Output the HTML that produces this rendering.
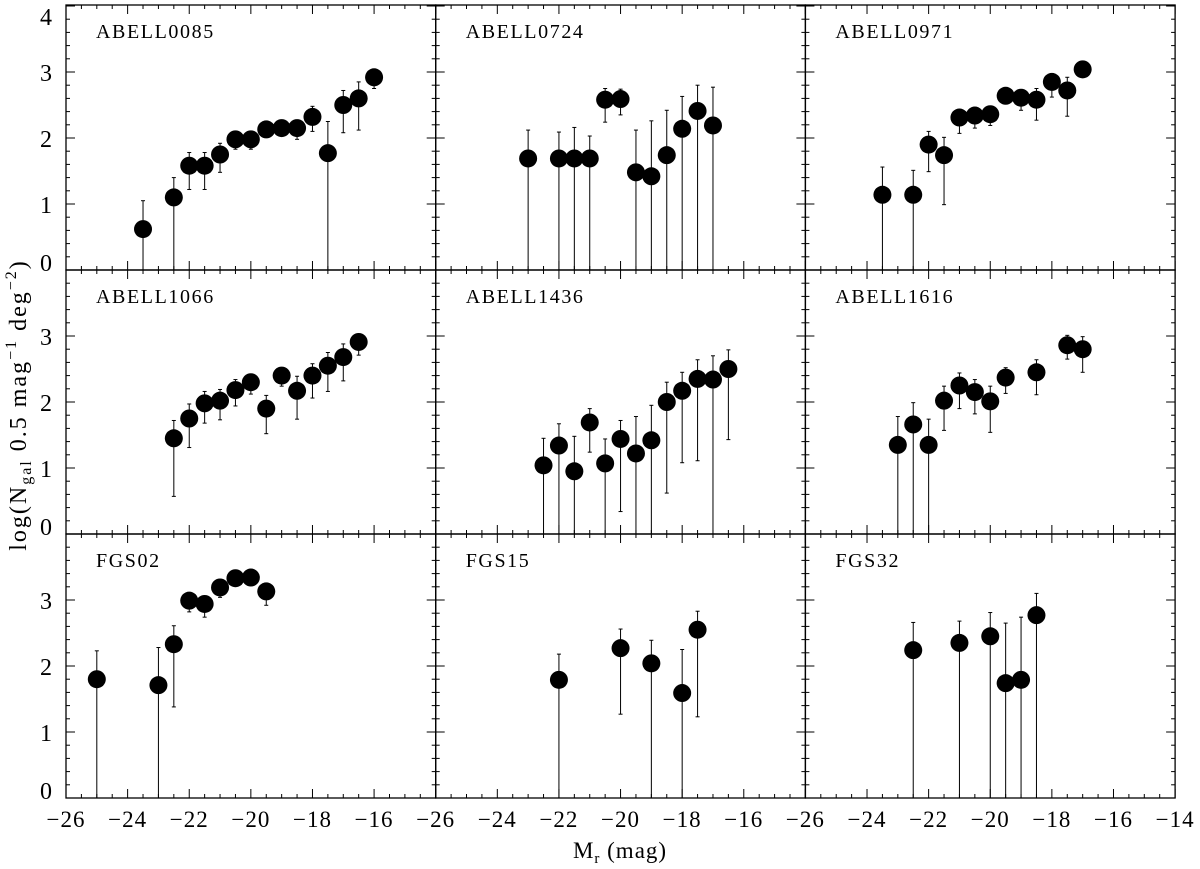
<!DOCTYPE html>
<html><head><meta charset="utf-8"><style>
html,body{margin:0;padding:0;background:#fff;}
svg{display:block;font-family:"Liberation Serif",serif;}
</style></head><body>
<svg id="chart" width="1200" height="869" viewBox="0 0 1200 869" xmlns="http://www.w3.org/2000/svg"></svg>
<script>
const panelNames = ["ABELL0085","ABELL0724","ABELL0971","ABELL1066","ABELL1436","ABELL1616","FGS02","FGS15","FGS32"];
const mag0085 = [-23.5,-22.5,-22,-21.5,-21,-20.5,-20,-19.5,-19,-18.5,-18,-17.5,-17,-16.5,-16];
const val0085 = [0.62,1.1,1.58,1.58,1.75,1.98,1.98,2.13,2.15,2.15,2.32,1.77,2.5,2.6,2.92];
const up0085 = [1.05,1.4,1.78,1.78,1.92,2.08,2.08,2.18,2.2,2.2,2.48,2.25,2.72,2.85,3.0];
const lo0085 = [0,0,1.22,1.22,1.48,1.83,1.83,2.08,2.1,1.98,2.1,0,2.08,2.12,2.75];
const mag0724 = [-23,-22,-21.5,-21,-20.5,-20,-19.5,-19,-18.5,-18,-17.5,-17];
const val0724 = [1.69,1.69,1.69,1.69,2.58,2.59,1.48,1.42,1.74,2.14,2.41,2.19];
const up0724 = [2.12,2.09,2.16,2.03,2.75,2.74,2.12,2.26,2.42,2.63,2.8,2.77];
const lo0724 = [0,0,0,0,2.24,2.35,0,0,0,0,0,0];
const mag0971 = [-23.5,-22.5,-22,-21.5,-21,-20.5,-20,-19.5,-19,-18.5,-18,-17.5,-17];
const val0971 = [1.14,1.14,1.9,1.74,2.31,2.34,2.36,2.64,2.61,2.58,2.85,2.72,3.04];
const up0971 = [1.56,1.51,2.1,2.01,2.39,2.4,2.4,2.66,2.66,2.75,2.88,2.92,3.06];
const lo0971 = [0,0,1.49,0.99,2.07,2.15,2.19,2.6,2.42,2.27,2.62,2.33,3.0];
const mag1066 = [-22.5,-22,-21.5,-21,-20.5,-20,-19.5,-19,-18.5,-18,-17.5,-17,-16.5];
const val1066 = [1.45,1.75,1.98,2.02,2.18,2.3,1.9,2.4,2.17,2.4,2.55,2.68,2.91];
const up1066 = [1.72,1.97,2.16,2.19,2.34,2.35,2.1,2.42,2.39,2.58,2.75,2.88,2.93];
const lo1066 = [0.57,1.31,1.68,1.73,1.94,2.12,1.52,2.24,1.74,2.06,2.16,2.32,2.71];
const mag1436 = [-22.5,-22,-21.5,-21,-20.5,-20,-19.5,-19,-18.5,-18,-17.5,-17,-16.5];
const val1436 = [1.04,1.34,0.95,1.69,1.07,1.44,1.22,1.42,2.0,2.17,2.35,2.34,2.5];
const up1436 = [1.45,1.67,1.48,1.9,1.44,1.72,1.78,1.95,2.3,2.45,2.64,2.7,2.79];
const lo1436 = [0,0,0,1.24,0,0.34,0,0,0.62,1.08,1.11,0,1.43];
const mag1616 = [-23,-22.5,-22,-21.5,-21,-20.5,-20,-19.5,-18.5,-17.5,-17];
const val1616 = [1.35,1.66,1.35,2.02,2.25,2.15,2.01,2.37,2.45,2.86,2.8];
const up1616 = [1.78,1.99,1.74,2.24,2.44,2.34,2.24,2.52,2.64,3.01,2.99];
const lo1616 = [0,0,0,1.57,1.9,1.82,1.54,2.13,2.11,2.65,2.45];
const magF02 = [-25,-23,-22.5,-22,-21.5,-21,-20.5,-20,-19.5];
const valF02 = [1.8,1.71,2.33,2.99,2.94,3.19,3.33,3.34,3.13];
const upF02 = [2.23,2.28,2.61,3.05,3.0,3.2,3.35,3.35,3.14];
const loF02 = [0,0,1.38,2.82,2.74,3.04,3.3,3.3,2.92];
const magF15 = [-22,-20,-19,-18,-17.5];
const valF15 = [1.79,2.27,2.04,1.59,2.55];
const upF15 = [2.18,2.56,2.39,2.25,2.83];
const loF15 = [0,1.27,0,0,1.23];
const magF32 = [-22.5,-21,-20,-19.5,-19,-18.5];
const valF32 = [2.24,2.35,2.45,1.74,1.79,2.77];
const upF32 = [2.66,2.68,2.81,2.65,2.74,3.1];
const loF32 = [0,0,0,0,0,0];
const xTickLabels = [-26,-24,-22,-20,-18,-16,-14];
const yTickLabels = [0,1,2,3,4];

const mags=[mag0085,mag0724,mag0971,mag1066,mag1436,mag1616,magF02,magF15,magF32];
const vals=[val0085,val0724,val0971,val1066,val1436,val1616,valF02,valF15,valF32];
const ups=[up0085,up0724,up0971,up1066,up1436,up1616,upF02,upF15,upF32];
const los=[lo0085,lo0724,lo0971,lo1066,lo1436,lo1616,loF02,loF15,loF32];

const NS="http://www.w3.org/2000/svg";
const svg=document.getElementById('chart');
function mk(tag,attrs,parent){const e=document.createElementNS(NS,tag);for(const k in attrs)e.setAttribute(k,attrs[k]);(parent||svg).appendChild(e);return e;}
const lefts=[66,435.7,805.4], PW=369.7;
const tops=[5,270,534], bottoms=[270,534,798];
const XMIN=-26, XMAX=-14, PXU=PW/(XMAX-XMIN), PYU=66;
function xs(col,m){return lefts[col]+(m-XMIN)*PXU;}
function ys(row,v){return bottoms[row]-v*PYU;}

for(let p=0;p<9;p++){
  const row=Math.floor(p/3), col=p%3;
  const g=mk('g',{});
  
  
  const L=lefts[col], R=L+PW, T=tops[row], B=bottoms[row];
  const fr=mk('rect',{x:L,y:T,width:PW,height:B-T,fill:'none',stroke:'#000','stroke-width':1.3},g);
  
  
  for(let m=XMIN;m<=XMAX+0.01;m+=0.5){
    const x=xs(col,m); const major=Math.abs(m%2)<0.01; const len=major?9:4;
    mk('line',{x1:x,y1:B,x2:x,y2:B-len,stroke:'#000','stroke-width':1},g);
    mk('line',{x1:x,y1:T,x2:x,y2:T+len,stroke:'#000','stroke-width':1},g);
  }
  for(let i=0;i*0.2<=4.01;i++){
    const v=i*0.2; const y=ys(row,v); if(y<T-0.5)continue;
    const major=Math.abs(v-Math.round(v))<0.01; const len=major?9:4;
    mk('line',{x1:L,y1:y,x2:L+len,y2:y,stroke:'#000','stroke-width':1},g);
    mk('line',{x1:R,y1:y,x2:R-len,y2:y,stroke:'#000','stroke-width':1},g);
  }
  const title=mk('text',{x:L+30,y:T+33,'font-size':20,'letter-spacing':1.6,fill:'#000'},g);
  title.textContent=panelNames[p];
  
  
  for(let i=0;i<mags[p].length;i++){
    const x=xs(col,mags[p][i]);
    const eb=mk('g',{},g);
    
    
    const yu=ys(row,ups[p][i]), yl=ys(row,los[p][i]);
    mk('line',{x1:x,y1:yu,x2:x,y2:yl,stroke:'#000','stroke-width':1},eb);
    mk('line',{x1:x-2,y1:yu,x2:x+2,y2:yu,stroke:'#000','stroke-width':1},eb);
    if(los[p][i]>0) mk('line',{x1:x-2,y1:yl,x2:x+2,y2:yl,stroke:'#000','stroke-width':1},eb);
    const c=mk('circle',{cx:x,cy:ys(row,vals[p][i]),r:9,fill:'#000'},g);
    
    
  }
  if(col===0){
    for(const v of yTickLabels){
      if(row>0 && v===4) continue;
      let y=ys(row,v)+9; if(v===0) y=bottoms[row]+1; if(v===4) y=tops[row]+20;
      const t=mk('text',{x:46,y:y,'font-size':24,'text-anchor':'middle',fill:'#000'});
      t.textContent=String(v);
      
      
    }
  }
  if(row===2){
    for(const m of xTickLabels){
      if(m===-14 && col<2) continue;
      const t=mk('text',{x:xs(col,m),y:827,'font-size':23,'letter-spacing':1,'text-anchor':'middle',fill:'#000'});
      t.textContent='\u2212'+String(-m);
      
      
    }
  }
}
</script>
<svg style="position:absolute;left:0;top:0" width="1200" height="869">
<text x="620" y="858" font-family="Liberation Serif, serif" font-size="23" letter-spacing="1" text-anchor="middle">M<tspan font-size="15" dy="5">r</tspan><tspan dy="-5"> (mag)</tspan></text>
<text transform="translate(26,405) rotate(-90)" font-family="Liberation Serif, serif" font-size="24" letter-spacing="2" text-anchor="middle">log(N<tspan font-size="16" dy="5">gal</tspan><tspan dy="-5"> 0.5 mag</tspan><tspan font-size="16" dy="-10">−1</tspan><tspan dy="10"> deg</tspan><tspan font-size="16" dy="-10">−2</tspan><tspan dy="10">)</tspan></text>
</svg>
</body></html>
